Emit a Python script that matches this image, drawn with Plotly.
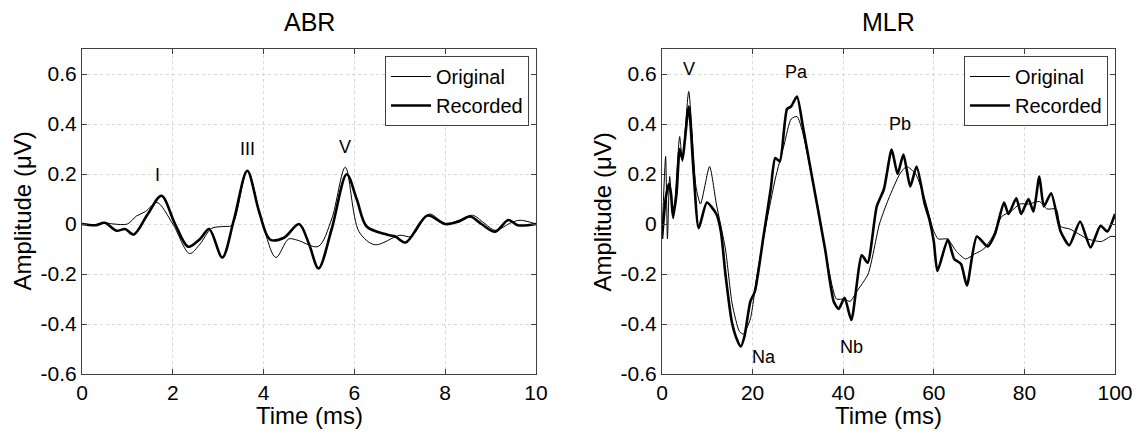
import plotly.graph_objects as go

# ABR (0-10 ms)
abr_t_rec = [0, 0.3, 0.5, 0.76, 0.95, 1.14, 1.45, 1.75, 2.05, 2.34, 2.6, 2.8, 3.09, 3.35, 3.64, 3.9, 4.14, 4.45, 4.78, 5.0, 5.21, 5.5, 5.83, 6.05, 6.27, 6.71, 6.9, 7.13, 7.61, 8.0, 8.3, 8.55, 8.8, 9.1, 9.39, 9.6, 10]
abr_v_rec = [0, -0.005, 0.005, -0.027, -0.02, -0.042, 0.04, 0.113, 0.0, -0.091, -0.06, -0.02, -0.134, 0.02, 0.213, 0.05, -0.062, -0.055, 0.0, -0.08, -0.178, -0.02, 0.199, 0.1, -0.01, -0.042, -0.05, -0.074, 0.034, 0.0, 0.01, 0.03, 0.0, -0.031, 0.016, -0.005, 0]

abr_t_org = [0, 0.3, 0.5, 0.7, 1.0, 1.2, 1.4, 1.65, 2.0, 2.37, 2.6, 2.85, 3.1, 3.3, 3.64, 3.95, 4.27, 4.55, 4.75, 5.2, 5.5, 5.8, 6.1, 6.45, 7.0, 7.25, 7.65, 8.0, 8.3, 8.6, 8.85, 9.1, 9.45, 9.65, 10]
abr_v_org = [0, -0.005, 0.004, 0.0, 0.0, 0.032, 0.05, 0.086, 0.0, -0.118, -0.08, -0.018, -0.01, -0.005, 0.213, 0.02, -0.134, -0.06, -0.065, -0.09, 0.02, 0.227, -0.03, -0.083, -0.045, -0.05, 0.04, 0.0, 0.015, 0.035, 0.005, -0.025, 0.005, 0.015, 0]

# MLR (0-100 ms)
mlr_t_rec = [0, 0.8, 1.5, 2.0, 2.4, 3.2, 3.9, 4.5, 5.9, 7.0, 8.1, 9.9, 12, 13, 14, 15.4, 16.5, 17.4, 18.2, 19.5, 20.5, 22.4, 24, 25, 26, 27.6, 28.5, 29.8, 31.1, 33, 36, 37.9, 39, 40.3, 41.8, 44.1, 45.4, 47.4, 49, 50.7, 52, 53.3, 54.8, 56.2, 58, 59, 60, 60.8, 63.1, 64.5, 66, 67.3, 69.5, 71.9, 73.5, 75.5, 76.5, 78.2, 79.3, 80.9, 82, 83.3, 84.3, 85.9, 88, 89.9, 92.3, 94.6, 96.8, 98.3, 100]
mlr_v_rec = [-0.06, 0.1, 0.16, 0.12, 0.03, 0.12, 0.3, 0.26, 0.47, 0.2, -0.017, 0.086, 0.04, -0.03, -0.2, -0.39, -0.46, -0.49, -0.45, -0.31, -0.27, -0.05, 0.14, 0.264, 0.25, 0.46, 0.47, 0.51, 0.39, 0.2, -0.1, -0.31, -0.34, -0.295, -0.384, -0.125, -0.155, 0.07, 0.14, 0.298, 0.2, 0.278, 0.15, 0.23, 0.08, 0.02, -0.07, -0.188, -0.062, -0.14, -0.16, -0.246, -0.05, -0.09, -0.04, 0.086, 0.04, 0.103, 0.04, 0.1, 0.05, 0.19, 0.07, 0.123, -0.03, -0.085, 0.01, -0.094, -0.007, -0.03, 0.04]

mlr_t_org = [0, 0.8, 1.2, 1.7, 2.5, 3.9, 4.5, 5.9, 7.5, 8.5, 10.5, 12, 14, 15.5, 17.1, 18, 19.5, 21, 23, 25, 27, 28.5, 29.8, 31, 34, 37, 38.5, 40.3, 41.5, 43, 45.5, 48, 50, 52.5, 54, 56, 58, 60, 61, 63, 65, 67, 69, 71, 73, 75, 77, 79, 81, 83.3, 85, 87, 88, 90, 92, 94, 97, 99, 100]
mlr_v_org = [-0.05, 0.27, -0.06, 0.19, 0.02, 0.35, 0.25, 0.53, 0.15, 0.08, 0.23, 0.08, -0.1, -0.32, -0.43, -0.44, -0.38, -0.2, 0.0, 0.18, 0.32, 0.42, 0.43, 0.37, 0.1, -0.2, -0.3, -0.3, -0.31, -0.27, -0.2, 0.0, 0.1, 0.2, 0.23, 0.2, 0.1, -0.03, -0.06, -0.06, -0.11, -0.14, -0.12, -0.1, -0.05, 0.03, 0.05, 0.08, 0.08, 0.09, 0.06, 0.06, -0.01, -0.02, -0.04, -0.06, -0.07, -0.05, -0.05]

abr_peaks = ["I", "III", "V"]
abr_peak_t = [1.66, 3.64, 5.8]
abr_peak_v = [0.197, 0.3, 0.31]
mlr_peaks = ["V", "Pa", "Pb", "Na", "Nb"]
mlr_peak_t = [5.9, 29.6, 52.6, 22.6, 41.8]
mlr_peak_v = [0.62, 0.607, 0.4, -0.53, -0.49]

yticks = [-0.6, -0.4, -0.2, 0, 0.2, 0.4, 0.6]
ytick_text = ["-0.6", "-0.4", "-0.2", "0", "0.2", "0.4", "0.6"]

FONT = "Liberation Sans, Arial, sans-serif"
W, H = 1141, 434
OFF = 8  # page body margin


def px_x(x):
    return (x - OFF) / W


def px_y(y):
    return 1 - (y - OFF) / H


left_dom = [px_x(82), px_x(536)]
right_dom = [px_x(662), px_x(1115)]
v_dom = [px_y(374), px_y(49)]

fig = go.Figure()
fig.add_trace(go.Scatter(x=abr_t_org, y=abr_v_org, mode="lines", name="Original",
                         line=dict(color="black", width=1, shape="spline", smoothing=0.9),
                         xaxis="x", yaxis="y", legend="legend"))
fig.add_trace(go.Scatter(x=abr_t_rec, y=abr_v_rec, mode="lines", name="Recorded",
                         line=dict(color="black", width=2.6, shape="spline", smoothing=0.9),
                         xaxis="x", yaxis="y", legend="legend"))
fig.add_trace(go.Scatter(x=mlr_t_org, y=mlr_v_org, mode="lines", name="Original",
                         line=dict(color="black", width=1, shape="spline", smoothing=0.6),
                         xaxis="x2", yaxis="y2", legend="legend2"))
fig.add_trace(go.Scatter(x=mlr_t_rec, y=mlr_v_rec, mode="lines", name="Recorded",
                         line=dict(color="black", width=2.6, shape="spline", smoothing=0.6),
                         xaxis="x2", yaxis="y2", legend="legend2"))

ax_common = dict(showline=True, linecolor="#404040", linewidth=1, mirror="ticks",
                 ticks="inside", ticklen=5, tickcolor="#404040", automargin=False,
                 showgrid=True, gridcolor="#d8d8d8", griddash="dot", gridwidth=1,
                 zeroline=False, tickfont=dict(size=21, color="black", family=FONT))

leg = dict(xanchor="right", yanchor="top", bgcolor="white", bordercolor="#404040", borderwidth=1,
           font=dict(size=20, color="black"), tracegroupgap=0, itemwidth=40)

fig.update_layout(
    width=W, height=H,
    margin=dict(l=0, r=0, t=0, b=0),
    paper_bgcolor="white", plot_bgcolor="white",
    font=dict(family=FONT, color="black"),
    xaxis=dict(domain=left_dom, range=[0, 10], tickvals=[0, 2, 4, 6, 8, 10], anchor="y", **ax_common),
    yaxis=dict(domain=v_dom, range=[-0.6, 0.7], tickvals=yticks, ticktext=ytick_text, anchor="x", **ax_common),
    xaxis2=dict(domain=right_dom, range=[0, 100], tickvals=[0, 20, 40, 60, 80, 100], anchor="y2", **ax_common),
    yaxis2=dict(domain=v_dom, range=[-0.6, 0.7], tickvals=yticks, ticktext=ytick_text, anchor="x2", **ax_common),
    legend=dict(x=px_x(529), y=px_y(56), **leg),
    legend2=dict(x=px_x(1108), y=px_y(56), **leg),
    showlegend=True,
)

# titles and axis labels
for title, dom in [("ABR", left_dom), ("MLR", right_dom)]:
    fig.add_annotation(text=title, x=sum(dom) / 2, y=px_y(22), xref="paper", yref="paper",
                       showarrow=False, font=dict(size=25), xanchor="center", yanchor="middle")
    fig.add_annotation(text="Time (ms)", x=sum(dom) / 2, y=px_y(415), xref="paper", yref="paper",
                       showarrow=False, font=dict(size=24), xanchor="center", yanchor="middle")
for xpos in [22, 602]:
    fig.add_annotation(text="Amplitude (\u03bcV)", x=px_x(xpos), y=sum(v_dom) / 2, xref="paper", yref="paper",
                       showarrow=False, font=dict(size=24), textangle=-90, xanchor="center", yanchor="middle")

for lab, t, v in zip(abr_peaks, abr_peak_t, abr_peak_v):
    fig.add_annotation(text=lab, x=t, y=v, xref="x", yref="y", showarrow=False, font=dict(size=18))
for lab, t, v in zip(mlr_peaks, mlr_peak_t, mlr_peak_v):
    fig.add_annotation(text=lab, x=t, y=v, xref="x2", yref="y2", showarrow=False, font=dict(size=18))

fig.write_html("out.html")
